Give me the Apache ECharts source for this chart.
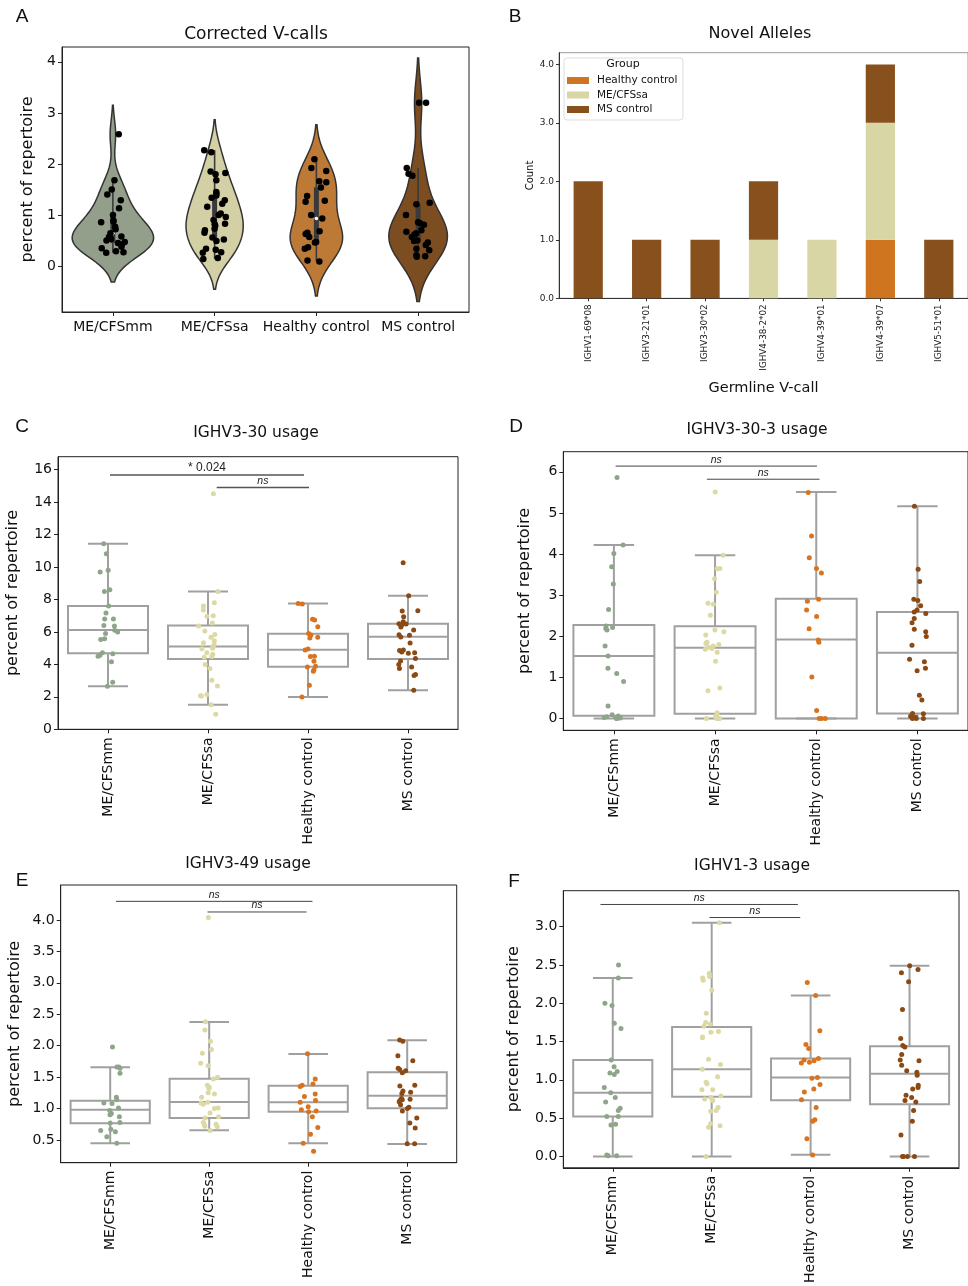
<!DOCTYPE html>
<html><head><meta charset="utf-8">
<script src="https://cdn.jsdelivr.net/npm/echarts@6/dist/echarts.min.js"></script>
<style>html,body{margin:0;padding:0;background:#fff}#c{width:968px;height:1286px}</style>
</head><body><div id="c"></div>
<script>
// ---------- DATA ----------
const groups = ['ME/CFSmm', 'ME/CFSsa', 'Healthy control', 'MS control'];

// Panel A: corrected V-calls (percent of repertoire)
const vcallsMM = [2.58, 1.68, 1.50, 1.40, 1.29, 1.13, 1.00, 0.89, 0.87, 0.86, 0.77, 0.72, 0.64, 0.58, 0.57, 0.53, 0.50, 0.47, 0.45, 0.42, 0.38, 0.35, 0.29, 0.27, 0.26];
const vcallsSA = [2.27, 2.23, 1.85, 1.82, 1.80, 1.68, 1.45, 1.42, 1.38, 1.34, 1.29, 1.22, 1.16, 1.03, 1.00, 0.96, 0.90, 0.83, 0.82, 0.79, 0.73, 0.70, 0.65, 0.56, 0.52, 0.49, 0.34, 0.32, 0.27, 0.26, 0.16, 0.14];
const vcallsHC = [2.09, 1.92, 1.86, 1.66, 1.64, 1.54, 1.37, 1.28, 1.26, 1.00, 0.93, 0.68, 0.65, 0.63, 0.57, 0.47, 0.46, 0.37, 0.34, 0.11, 0.09];
const vcallsMS = [3.20, 3.20, 1.92, 1.81, 1.77, 1.24, 1.21, 1.00, 0.86, 0.84, 0.81, 0.70, 0.67, 0.64, 0.62, 0.57, 0.50, 0.49, 0.46, 0.41, 0.34, 0.31, 0.21, 0.19, 0.18];
const aTicks = [0, 1, 2, 3, 4];

// Panel B: novel alleles
const alleles = ['IGHV1-69*08', 'IGHV3-21*01', 'IGHV3-30*02', 'IGHV4-38-2*02', 'IGHV4-39*01', 'IGHV4-39*07', 'IGHV5-51*01'];
const novelHC = [0, 0, 0, 0, 0, 1, 0];
const novelSA = [0, 0, 0, 1, 1, 2, 0];
const novelMS = [2, 1, 1, 1, 0, 1, 1];
const bTicks = [0, 1, 2, 3, 4];

// Panel C: IGHV3-30 usage
const cMM = [11.44, 10.82, 9.8, 9.7, 8.6, 8.5, 7.6, 7.17, 6.8, 6.8, 6.4, 6.37, 6.1, 6.0, 5.9, 5.58, 5.54, 4.72, 4.66, 4.56, 4.5, 4.17, 2.9, 2.65];
const cSA = [14.52, 8.5, 7.8, 7.6, 7.35, 7.0, 6.97, 6.55, 6.37, 6.06, 5.85, 5.67, 5.46, 5.34, 5.22, 5.1, 5.0, 4.97, 4.72, 4.62, 4.48, 4.44, 4.0, 3.74, 3.02, 2.67, 2.14, 2.07, 2.05, 1.52, 0.92];
const cHC = [7.76, 7.72, 6.78, 6.74, 6.32, 5.91, 5.81, 5.67, 5.63, 4.95, 4.89, 4.5, 4.48, 4.19, 3.88, 3.84, 3.66, 3.57, 2.71, 1.99];
const cMS = [10.27, 8.23, 7.31, 7.29, 6.94, 6.63, 6.51, 6.49, 6.41, 6.30, 6.12, 5.83, 5.79, 5.69, 5.32, 4.89, 4.85, 4.76, 4.72, 4.68, 4.37, 4.21, 4.0, 3.84, 3.74, 3.37, 3.31, 2.40];
const cBox = [[2.65, 4.68, 6.12, 7.6, 11.44], [1.52, 4.33, 5.11, 6.39, 8.5], [1.99, 3.86, 4.91, 5.89, 7.76], [2.40, 4.33, 5.71, 6.51, 8.23]];
const cSig = [[0.02, 1.96, 15.67, '* 0.024'], [1.087, 2.01, 14.9, 'ns']];
const cTicks = [0, 2, 4, 6, 8, 10, 12, 14, 16];

// Panel D: IGHV3-30-3 usage
const dMM = [5.86, 4.22, 4.01, 3.69, 3.27, 2.65, 2.25, 2.21, 2.19, 2.15, 1.76, 1.52, 1.22, 1.09, 0.90, 0.30, 0.09, 0.06, 0.04, 0.02, 0.02, 0.01, 0, 0];
const dSA = [5.51, 3.97, 3.65, 3.64, 3.40, 3.07, 2.80, 2.78, 2.51, 2.15, 2.11, 2.03, 1.85, 1.82, 1.80, 1.76, 1.73, 1.70, 1.68, 1.61, 1.39, 0.74, 0.67, 0.14, 0.10, 0.04, 0, 0, 0, 0];
const dHC = [5.50, 4.44, 3.91, 3.65, 3.54, 2.90, 2.85, 2.64, 2.48, 2.18, 1.91, 1.85, 1.01, 0.19, 0, 0, 0];
const dMS = [5.16, 3.63, 3.33, 2.90, 2.87, 2.74, 2.64, 2.59, 2.55, 2.43, 2.33, 2.17, 2.11, 1.99, 1.78, 1.44, 1.38, 1.22, 1.16, 0.56, 0.45, 0.12, 0.11, 0.05, 0.03, 0.02, 0, 0, 0];
const dBox = [[0, 0.065, 1.52, 2.27, 4.22], [0, 0.11, 1.72, 2.24, 3.97], [0, 0, 1.92, 2.91, 5.51], [0, 0.12, 1.60, 2.59, 5.16]];
const dSig = [[0.017, 2.007, 6.14, 'ns'], [0.919, 2.033, 5.82, 'ns']];
const dTicks = [0, 1, 2, 3, 4, 5, 6];

// Panel E: IGHV3-49 usage
const eMM = [1.98, 1.66, 1.66, 1.64, 1.56, 1.18, 1.14, 1.09, 1.08, 1.01, 0.97, 0.92, 0.90, 0.87, 0.78, 0.77, 0.67, 0.65, 0.63, 0.55, 0.45];
const eSA = [4.04, 2.38, 2.25, 2.07, 1.94, 1.88, 1.72, 1.68, 1.50, 1.47, 1.37, 1.34, 1.32, 1.25, 1.23, 1.18, 1.10, 1.09, 1.07, 1.01, 1.00, 0.93, 0.87, 0.85, 0.78, 0.75, 0.74, 0.72, 0.71, 0.65];
const eHC = [1.87, 1.47, 1.39, 1.37, 1.35, 1.23, 1.19, 1.13, 1.10, 1.03, 0.98, 0.96, 0.95, 0.87, 0.70, 0.59, 0.45, 0.32];
const eMS = [2.09, 2.07, 1.84, 1.76, 1.64, 1.62, 1.60, 1.57, 1.37, 1.36, 1.28, 1.26, 1.24, 1.16, 1.15, 1.14, 1.13, 1.11, 1.06, 1.02, 1.00, 0.96, 0.85, 0.77, 0.69, 0.44, 0.44];
const eBox = [[0.447, 0.765, 0.98, 1.126, 1.656], [0.654, 0.85, 1.104, 1.476, 2.377], [0.447, 0.95, 1.099, 1.364, 1.868], [0.436, 1.004, 1.205, 1.576, 2.085]];
const eSig = [[0.058, 2.043, 4.296, 'ns'], [0.983, 1.983, 4.127, 'ns']];
const eTicks = [0.5, 1.0, 1.5, 2.0, 2.5, 3.0, 3.5, 4.0];

// Panel F: IGHV1-3 usage
const fMM = [2.50, 2.33, 2.00, 1.97, 1.74, 1.67, 1.26, 1.17, 1.11, 1.09, 1.07, 0.90, 0.83, 0.77, 0.71, 0.63, 0.60, 0.52, 0.52, 0.42, 0.41, 0.02, 0.01, 0.01];
const fSA = [3.05, 2.39, 2.35, 2.33, 2.30, 2.17, 1.87, 1.75, 1.73, 1.70, 1.63, 1.62, 1.56, 1.55, 1.27, 1.20, 1.14, 1.04, 0.97, 0.95, 0.87, 0.87, 0.79, 0.77, 0.75, 0.73, 0.64, 0.60, 0.59, 0.43, 0.40, 0.38, 0];
const fHC = [2.27, 2.10, 1.64, 1.46, 1.41, 1.28, 1.26, 1.25, 1.23, 1.22, 1.03, 1.02, 0.94, 0.88, 0.84, 0.74, 0.64, 0.48, 0.46, 0.23, 0.02];
const fMS = [2.49, 2.44, 2.40, 2.28, 1.92, 1.54, 1.45, 1.43, 1.33, 1.26, 1.25, 1.19, 1.12, 1.10, 1.06, 0.93, 0.90, 0.88, 0.80, 0.77, 0.73, 0.71, 0.60, 0.46, 0.28, 0, 0, 0, 0];
const fBox = [[0, 0.52, 0.83, 1.26, 2.33], [0, 0.78, 1.14, 1.69, 3.05], [0.022, 0.735, 1.03, 1.28, 2.10], [0, 0.68, 1.08, 1.44, 2.49]];
const fSig = [[-0.124, 1.871, 3.29, 'ns'], [0.978, 1.895, 3.12, 'ns']];
const fTicks = [0.0, 0.5, 1.0, 1.5, 2.0, 2.5, 3.0];

// ---------- STYLE ----------
const FONT = 'DejaVu Sans';
const violinColors = ['#939F8A', '#D4D0A6', '#BD7A37', '#7D4D22'];
const pointColors = ['#8FA58A', '#DCD9A4', '#D8731F', '#8B4A14'];
const barColors = {hc: '#CF7520', sa: '#D9D6A5', ms: '#87501C'};
const AX = '#222';

function jit(i, g) {
  const s = Math.sin((i + 1) * 12.9898 + (g + 1) * 78.233) * 43758.5453;
  return (s - Math.floor(s)) * 2 - 1;
}

function xAxisGroups(gi, rotate) {
  return {
    type: 'value', gridIndex: gi, min: -0.5, max: 3.5,
    axisLine: {show: true, onZero: false, lineStyle: {color: AX, width: 1}},
    axisTick: {show: true, length: 4, customValues: [0, 1, 2, 3], lineStyle: {color: AX}},
    axisLabel: {customValues: [0, 1, 2, 3], formatter: v => groups[Math.round(v)], fontFamily: FONT, fontSize: 14, color: '#111', margin: 8, rotate: rotate},
    splitLine: {show: false}
  };
}
function yAxisVal(gi, min, max, ticks, dec, gap) {
  return {
    type: 'value', gridIndex: gi, min: min, max: max,
    name: 'percent of repertoire', nameLocation: 'middle', nameGap: gap,
    nameTextStyle: {fontFamily: FONT, fontSize: 16, color: '#111'},
    axisLine: {show: true, onZero: false, lineStyle: {color: AX, width: 1}},
    axisTick: {show: true, length: 4, customValues: ticks, lineStyle: {color: AX}},
    axisLabel: {customValues: ticks, formatter: v => dec ? v.toFixed(dec) : String(Math.round(v)), fontFamily: FONT, fontSize: 14, color: '#111', margin: 6},
    splitLine: {show: false}
  };
}

// KDE for violins (Scott's rule, cut = 2)
const vData = [vcallsMM, vcallsSA, vcallsHC, vcallsMS];
function kde(arr) {
  const n = arr.length, mean = arr.reduce((a, b) => a + b, 0) / n;
  const sd = Math.sqrt(arr.reduce((a, b) => a + (b - mean) * (b - mean), 0) / (n - 1));
  const bw = sd * Math.pow(n, -0.2);
  const lo = Math.min(...arr) - 2 * bw, hi = Math.max(...arr) + 2 * bw;
  const ys = [], ds = [];
  for (let k = 0; k < 100; k++) {
    const y = lo + (hi - lo) * k / 99; let s = 0;
    for (const v of arr) { const z = (y - v) / bw; s += Math.exp(-0.5 * z * z); }
    ys.push(y); ds.push(s / (n * bw * Math.sqrt(2 * Math.PI)));
  }
  return {ys, ds};
}
function quant(sorted, p) {
  const pos = (sorted.length - 1) * p, i = Math.floor(pos), f = pos - i;
  return i + 1 < sorted.length ? sorted[i] + f * (sorted[i + 1] - sorted[i]) : sorted[i];
}
const kdes = vData.map(kde);
const maxD = Math.max(...kdes.map(k => Math.max(...k.ds)));

function violinSeries() {
  return {
    type: 'custom', xAxisIndex: 0, yAxisIndex: 0, z: 2, silent: true,
    data: vData.map((a, g) => [g, 0]),
    renderItem(params, api) {
      const g = params.dataIndex, k = kdes[g];
      const pts = [];
      for (let i = 0; i < k.ys.length; i++) pts.push(api.coord([g + k.ds[i] / maxD * 0.4, k.ys[i]]));
      for (let i = k.ys.length - 1; i >= 0; i--) pts.push(api.coord([g - k.ds[i] / maxD * 0.4, k.ys[i]]));
      const s = vData[g].slice().sort((a, b) => a - b);
      const q1 = quant(s, 0.25), q3 = quant(s, 0.75), md = quant(s, 0.5), iqr = q3 - q1;
      const h1 = Math.min(...s.filter(v => v >= q1 - 1.5 * iqr));
      const h2 = Math.max(...s.filter(v => v <= q3 + 1.5 * iqr));
      const a1 = api.coord([g, h1]), a2 = api.coord([g, h2]), b1 = api.coord([g, q1]), b2 = api.coord([g, q3]), m = api.coord([g, md]);
      return {type: 'group', children: [
        {type: 'polygon', shape: {points: pts}, style: {fill: violinColors[g], stroke: '#333', lineWidth: 1.5}},
        {type: 'line', shape: {x1: a1[0], y1: a1[1], x2: a2[0], y2: a2[1]}, style: {stroke: '#3a3a3a', lineWidth: 1.6}},
        {type: 'line', shape: {x1: b1[0], y1: b1[1], x2: b2[0], y2: b2[1]}, style: {stroke: '#3a3a3a', lineWidth: 5}},
        {type: 'circle', shape: {cx: m[0], cy: m[1], r: 1.8}, style: {fill: '#fff'}}
      ]};
    }
  };
}

function boxSeries(idx, stats) {
  return {
    type: 'custom', xAxisIndex: idx, yAxisIndex: idx, z: 2, silent: true,
    data: stats.map((s, g) => [g, s[0], s[1], s[2], s[3], s[4]]),
    renderItem(params, api) {
      const g = api.value(0), mn = api.value(1), q1 = api.value(2), md = api.value(3), q3 = api.value(4), mx = api.value(5);
      const c = (x, y) => api.coord([x, y]);
      const tl = c(g - 0.4, q3), br = c(g + 0.4, q1);
      const st = {stroke: '#a0a0a0', lineWidth: 2, fill: null};
      const ln = (p, q) => ({type: 'line', shape: {x1: p[0], y1: p[1], x2: q[0], y2: q[1]}, style: st});
      return {type: 'group', children: [
        {type: 'rect', shape: {x: tl[0], y: tl[1], width: br[0] - tl[0], height: br[1] - tl[1]}, style: {stroke: '#a0a0a0', lineWidth: 2, fill: 'rgba(0,0,0,0)'}},
        ln(c(g - 0.4, md), c(g + 0.4, md)),
        ln(c(g, q3), c(g, mx)),
        ln(c(g, q1), c(g, mn)),
        ln(c(g - 0.2, mx), c(g + 0.2, mx)),
        ln(c(g - 0.2, mn), c(g + 0.2, mn))
      ]};
    }
  };
}

function stripSeries(idx, arrs, colors, size, spread, zz) {
  return arrs.map((arr, g) => ({
    type: 'scatter', xAxisIndex: idx, yAxisIndex: idx, z: zz || 4, silent: true,
    name: 'pts' + idx + '_' + g,
    symbol: 'circle', symbolSize: size,
    itemStyle: {color: colors[g], opacity: 1},
    data: arr.map((v, i) => [g + spread * jit(i, g + idx * 4), v])
  }));
}

function sigSeries(idx, sig, lw, color) {
  return {
    type: 'custom', xAxisIndex: idx, yAxisIndex: idx, z: 6, silent: true,
    data: sig.map(s => [s[0], s[2]]),
    renderItem(params, api) {
      const s = sig[params.dataIndex];
      const a = api.coord([s[0], s[2]]), b = api.coord([s[1], s[2]]);
      const isNs = s[3] === 'ns';
      return {type: 'group', children: [
        {type: 'line', shape: {x1: a[0], y1: a[1], x2: b[0], y2: b[1]}, style: {stroke: color, lineWidth: lw}},
        {type: 'text', x: (a[0] + b[0]) / 2, y: a[1] - 1, style: {text: s[3], align: 'center', verticalAlign: 'bottom',
          font: (isNs ? 'italic 10.5px' : '12px') + ' "Liberation Sans"', fill: '#222'}}
      ]};
    }
  };
}

function txt(x, y, s, size, family, z) {
  return {type: 'text', x: x, y: y, z: z || 3, style: {text: s, align: 'center', verticalAlign: 'middle', font: size + 'px "' + (family || FONT) + '"', fill: '#111'}};
}

const grids = [
  {left: 62, top: 47, width: 407, height: 265},
  {left: 559, top: 52.7, width: 420, height: 245.6},
  {left: 58, top: 456.7, width: 400, height: 272.6},
  {left: 563.3, top: 451.7, width: 408, height: 278.6},
  {left: 60.7, top: 885, width: 396, height: 277.7},
  {left: 563.3, top: 890.7, width: 395.7, height: 277.3}
].map((g, i) => Object.assign({show: true, borderColor: i === 1 ? '#9a9a9a' : '#222', borderWidth: 1, backgroundColor: 'transparent', containLabel: false}, g));

const option = {
  animation: false,
  backgroundColor: '#fff',
  grid: grids,
  legend: {
    data: ['Healthy control', 'ME/CFSsa', 'MS control'], orient: 'vertical', left: 567, top: 75,
    itemWidth: 22, itemHeight: 7, itemGap: 3.5, icon: 'rect', selectedMode: false, padding: 0,
    textStyle: {fontFamily: FONT, fontSize: 10.5, color: '#111', padding: [0, 0, 0, 3]}
  },
  xAxis: [
    xAxisGroups(0, 0),
    {type: 'category', gridIndex: 1, data: alleles, boundaryGap: true,
      axisLine: {show: true, onZero: false, lineStyle: {color: '#333'}},
      axisTick: {show: true, alignWithLabel: true, length: 3, lineStyle: {color: '#333'}},
      axisLabel: {rotate: 90, fontFamily: FONT, fontSize: 8.8, color: '#222', margin: 6, interval: 0},
      name: 'Germline V-call', nameLocation: 'middle', nameGap: 82,
      nameTextStyle: {fontFamily: FONT, fontSize: 14.5, color: '#111'}},
    xAxisGroups(2, 90), xAxisGroups(3, 90), xAxisGroups(4, 90), xAxisGroups(5, 90)
  ],
  yAxis: [
    yAxisVal(0, -0.9, 4.29, aTicks, 0, 26),
    {type: 'value', gridIndex: 1, min: 0, max: 4.2,
      name: 'Count', nameLocation: 'middle', nameGap: 24,
      nameTextStyle: {fontFamily: FONT, fontSize: 10, color: '#111'},
      axisLine: {show: true, onZero: false, lineStyle: {color: '#333'}},
      axisTick: {show: true, length: 3, customValues: bTicks, lineStyle: {color: '#333'}},
      axisLabel: {customValues: bTicks, formatter: v => v.toFixed(1), fontFamily: FONT, fontSize: 9, color: '#222', margin: 5},
      splitLine: {show: false}},
    yAxisVal(2, 0, 16.8, cTicks, 0, 37),
    yAxisVal(3, -0.29, 6.49, dTicks, 0, 30),
    yAxisVal(4, 0.139, 4.556, eTicks, 1, 38),
    yAxisVal(5, -0.148, 3.47, fTicks, 1, 41)
  ],
  series: [
    violinSeries(),
    ...stripSeries(0, vData, ['#000', '#000', '#000', '#000'], 6.5, 0.12, 5),
    {type: 'bar', name: 'Healthy control', xAxisIndex: 1, yAxisIndex: 1, stack: 'n', barWidth: '50%', itemStyle: {color: barColors.hc}, data: novelHC},
    {type: 'bar', name: 'ME/CFSsa', xAxisIndex: 1, yAxisIndex: 1, stack: 'n', barWidth: '50%', itemStyle: {color: barColors.sa}, data: novelSA},
    {type: 'bar', name: 'MS control', xAxisIndex: 1, yAxisIndex: 1, stack: 'n', barWidth: '50%', itemStyle: {color: barColors.ms}, data: novelMS},
    boxSeries(2, cBox), ...stripSeries(2, [cMM, cSA, cHC, cMS], pointColors, 5, 0.1), sigSeries(2, cSig, 1.6, '#555'),
    boxSeries(3, dBox), ...stripSeries(3, [dMM, dSA, dHC, dMS], pointColors, 5, 0.1), sigSeries(3, dSig, 1, '#444'),
    boxSeries(4, eBox), ...stripSeries(4, [eMM, eSA, eHC, eMS], pointColors, 5, 0.1), sigSeries(4, eSig, 1, '#444'),
    boxSeries(5, fBox), ...stripSeries(5, [fMM, fSA, fHC, fMS], pointColors, 5, 0.1), sigSeries(5, fSig, 1, '#444')
  ],
  graphic: {elements: [
    {type: 'rect', shape: {x: 564, y: 58, width: 119, height: 62, r: 3}, style: {fill: '#fff', stroke: '#dddddd', lineWidth: 1}, z: 0},
    txt(623, 64.5, 'Group', 11, FONT, 5),
    txt(22, 17, 'A', 19, 'Liberation Sans'), txt(515, 17, 'B', 19, 'Liberation Sans'),
    txt(22, 427, 'C', 19, 'Liberation Sans'), txt(516, 427, 'D', 19, 'Liberation Sans'),
    txt(22, 881, 'E', 19, 'Liberation Sans'), txt(514, 882, 'F', 19, 'Liberation Sans'),
    txt(256, 35, 'Corrected V-calls', 17), txt(760, 34, 'Novel Alleles', 16),
    txt(256, 433, 'IGHV3-30 usage', 15.5), txt(757, 430, 'IGHV3-30-3 usage', 15.5),
    txt(248, 864, 'IGHV3-49 usage', 15.5), txt(752, 866, 'IGHV1-3 usage', 15.5)
  ]}
};

const chart = echarts.init(document.getElementById('c'), null, {renderer: 'canvas', width: 968, height: 1286});
chart.setOption(option);
</script>
</body></html>
